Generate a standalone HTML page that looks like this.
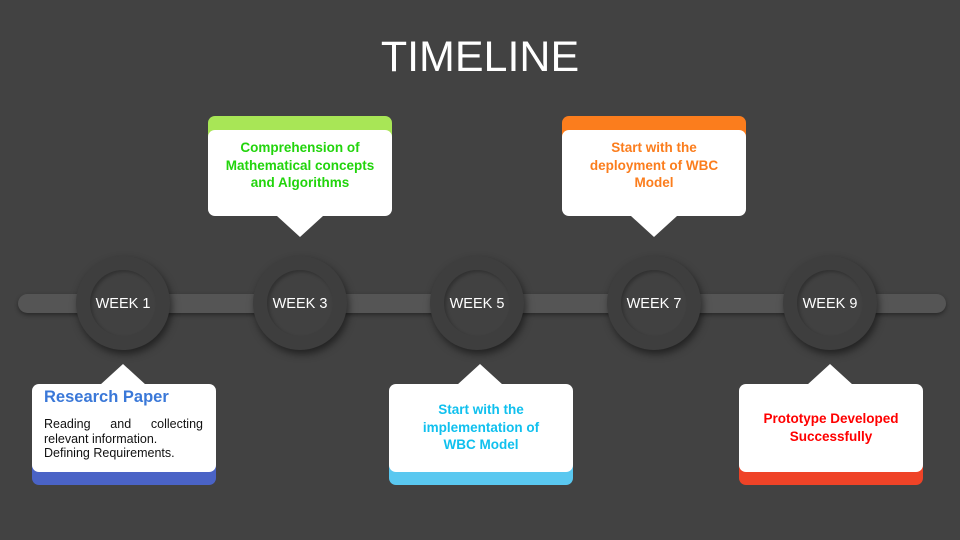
<!DOCTYPE html>
<html><head><style>
body{margin:0;width:960px;height:540px;background:#424242;position:relative;overflow:hidden;font-family:"Liberation Sans",sans-serif}
.t{position:absolute;left:0;width:960px;top:33px;text-align:center;color:#fff;font-size:43px}
.bar{position:absolute;left:18px;top:294px;width:928px;height:19px;border-radius:10px;background:#555;box-shadow:0 2px 4px rgba(0,0,0,.4)}
.c{position:absolute;width:94px;height:94px;border-radius:50%;background:#3e3e3e;top:256px;box-shadow:2px 4px 8px rgba(0,0,0,.5)}
.c .i{position:absolute;left:14px;top:14px;width:66px;height:66px;border-radius:50%;background:#414141;box-shadow:inset 2px 2px 3px rgba(0,0,0,.25)}
.c span{position:absolute;left:0;width:94px;top:40px;text-align:center;color:#fff;font-size:14.5px}
.box{position:absolute;width:184px}
.box .w{position:absolute;left:0;width:184px;background:#fff;border-radius:7px}
.box .col{position:absolute;left:0;width:184px;border-radius:7px}
.tri{position:absolute;width:0;height:0;border-left:23px solid transparent;border-right:23px solid transparent}
.txt{position:absolute;left:0;width:184px;text-align:center;font-weight:bold;font-size:13.5px;line-height:17.5px}
.j{text-align:justify;text-align-last:justify;display:block}
</style></head><body>
<div class="t">TIMELINE</div>
<div class="bar"></div>
<div class="c" style="left:76px"><div class="i"></div><span>WEEK 1</span></div>
<div class="c" style="left:253px"><div class="i"></div><span>WEEK 3</span></div>
<div class="c" style="left:430px"><div class="i"></div><span>WEEK 5</span></div>
<div class="c" style="left:607px"><div class="i"></div><span>WEEK 7</span></div>
<div class="c" style="left:783px"><div class="i"></div><span>WEEK 9</span></div>

<div class="box" style="left:32px;top:364px">
<div class="tri" style="left:68px;top:0;border-bottom:21px solid #fff"></div>
<div class="col" style="top:30px;height:91px;background:#4a63c6"></div>
<div class="w" style="top:20px;height:88px"></div>
<div style="position:absolute;left:12px;top:24px;color:#3a78d8;font-weight:bold;font-size:16.5px">Research Paper</div>
<div style="position:absolute;left:12px;top:53px;width:159px;font-size:12.5px;line-height:14.5px;color:#111"><span class="j">Reading and collecting</span>relevant information.<br>Defining Requirements.</div>
</div>

<div class="box" style="left:389px;top:364px">
<div class="tri" style="left:68px;top:0;border-bottom:21px solid #fff"></div>
<div class="col" style="top:30px;height:91px;background:#5ac8f0"></div>
<div class="w" style="top:20px;height:88px"></div>
<div class="txt" style="top:37px;color:#10c0ee">Start with the<br>implementation of<br>WBC Model</div>
</div>

<div class="box" style="left:739px;top:364px">
<div class="tri" style="left:68px;top:0;border-bottom:21px solid #fff"></div>
<div class="col" style="top:30px;height:91px;background:#ef4327"></div>
<div class="w" style="top:20px;height:88px"></div>
<div class="txt" style="top:46px;color:#f00">Prototype Developed<br>Successfully</div>
</div>

<div class="box" style="left:208px;top:116px">
<div class="col" style="top:0;height:60px;background:#a8e656"></div>
<div class="w" style="top:14px;height:86px"></div>
<div class="tri" style="left:69px;top:100px;border-top:21px solid #fff"></div>
<div class="txt" style="top:23px;color:#22d40c">Comprehension of<br>Mathematical concepts<br>and Algorithms</div>
</div>

<div class="box" style="left:562px;top:116px">
<div class="col" style="top:0;height:60px;background:#fb7d1d"></div>
<div class="w" style="top:14px;height:86px"></div>
<div class="tri" style="left:69px;top:100px;border-top:21px solid #fff"></div>
<div class="txt" style="top:23px;color:#fb7d1d">Start with the<br>deployment of WBC<br>Model</div>
</div>
</body></html>
